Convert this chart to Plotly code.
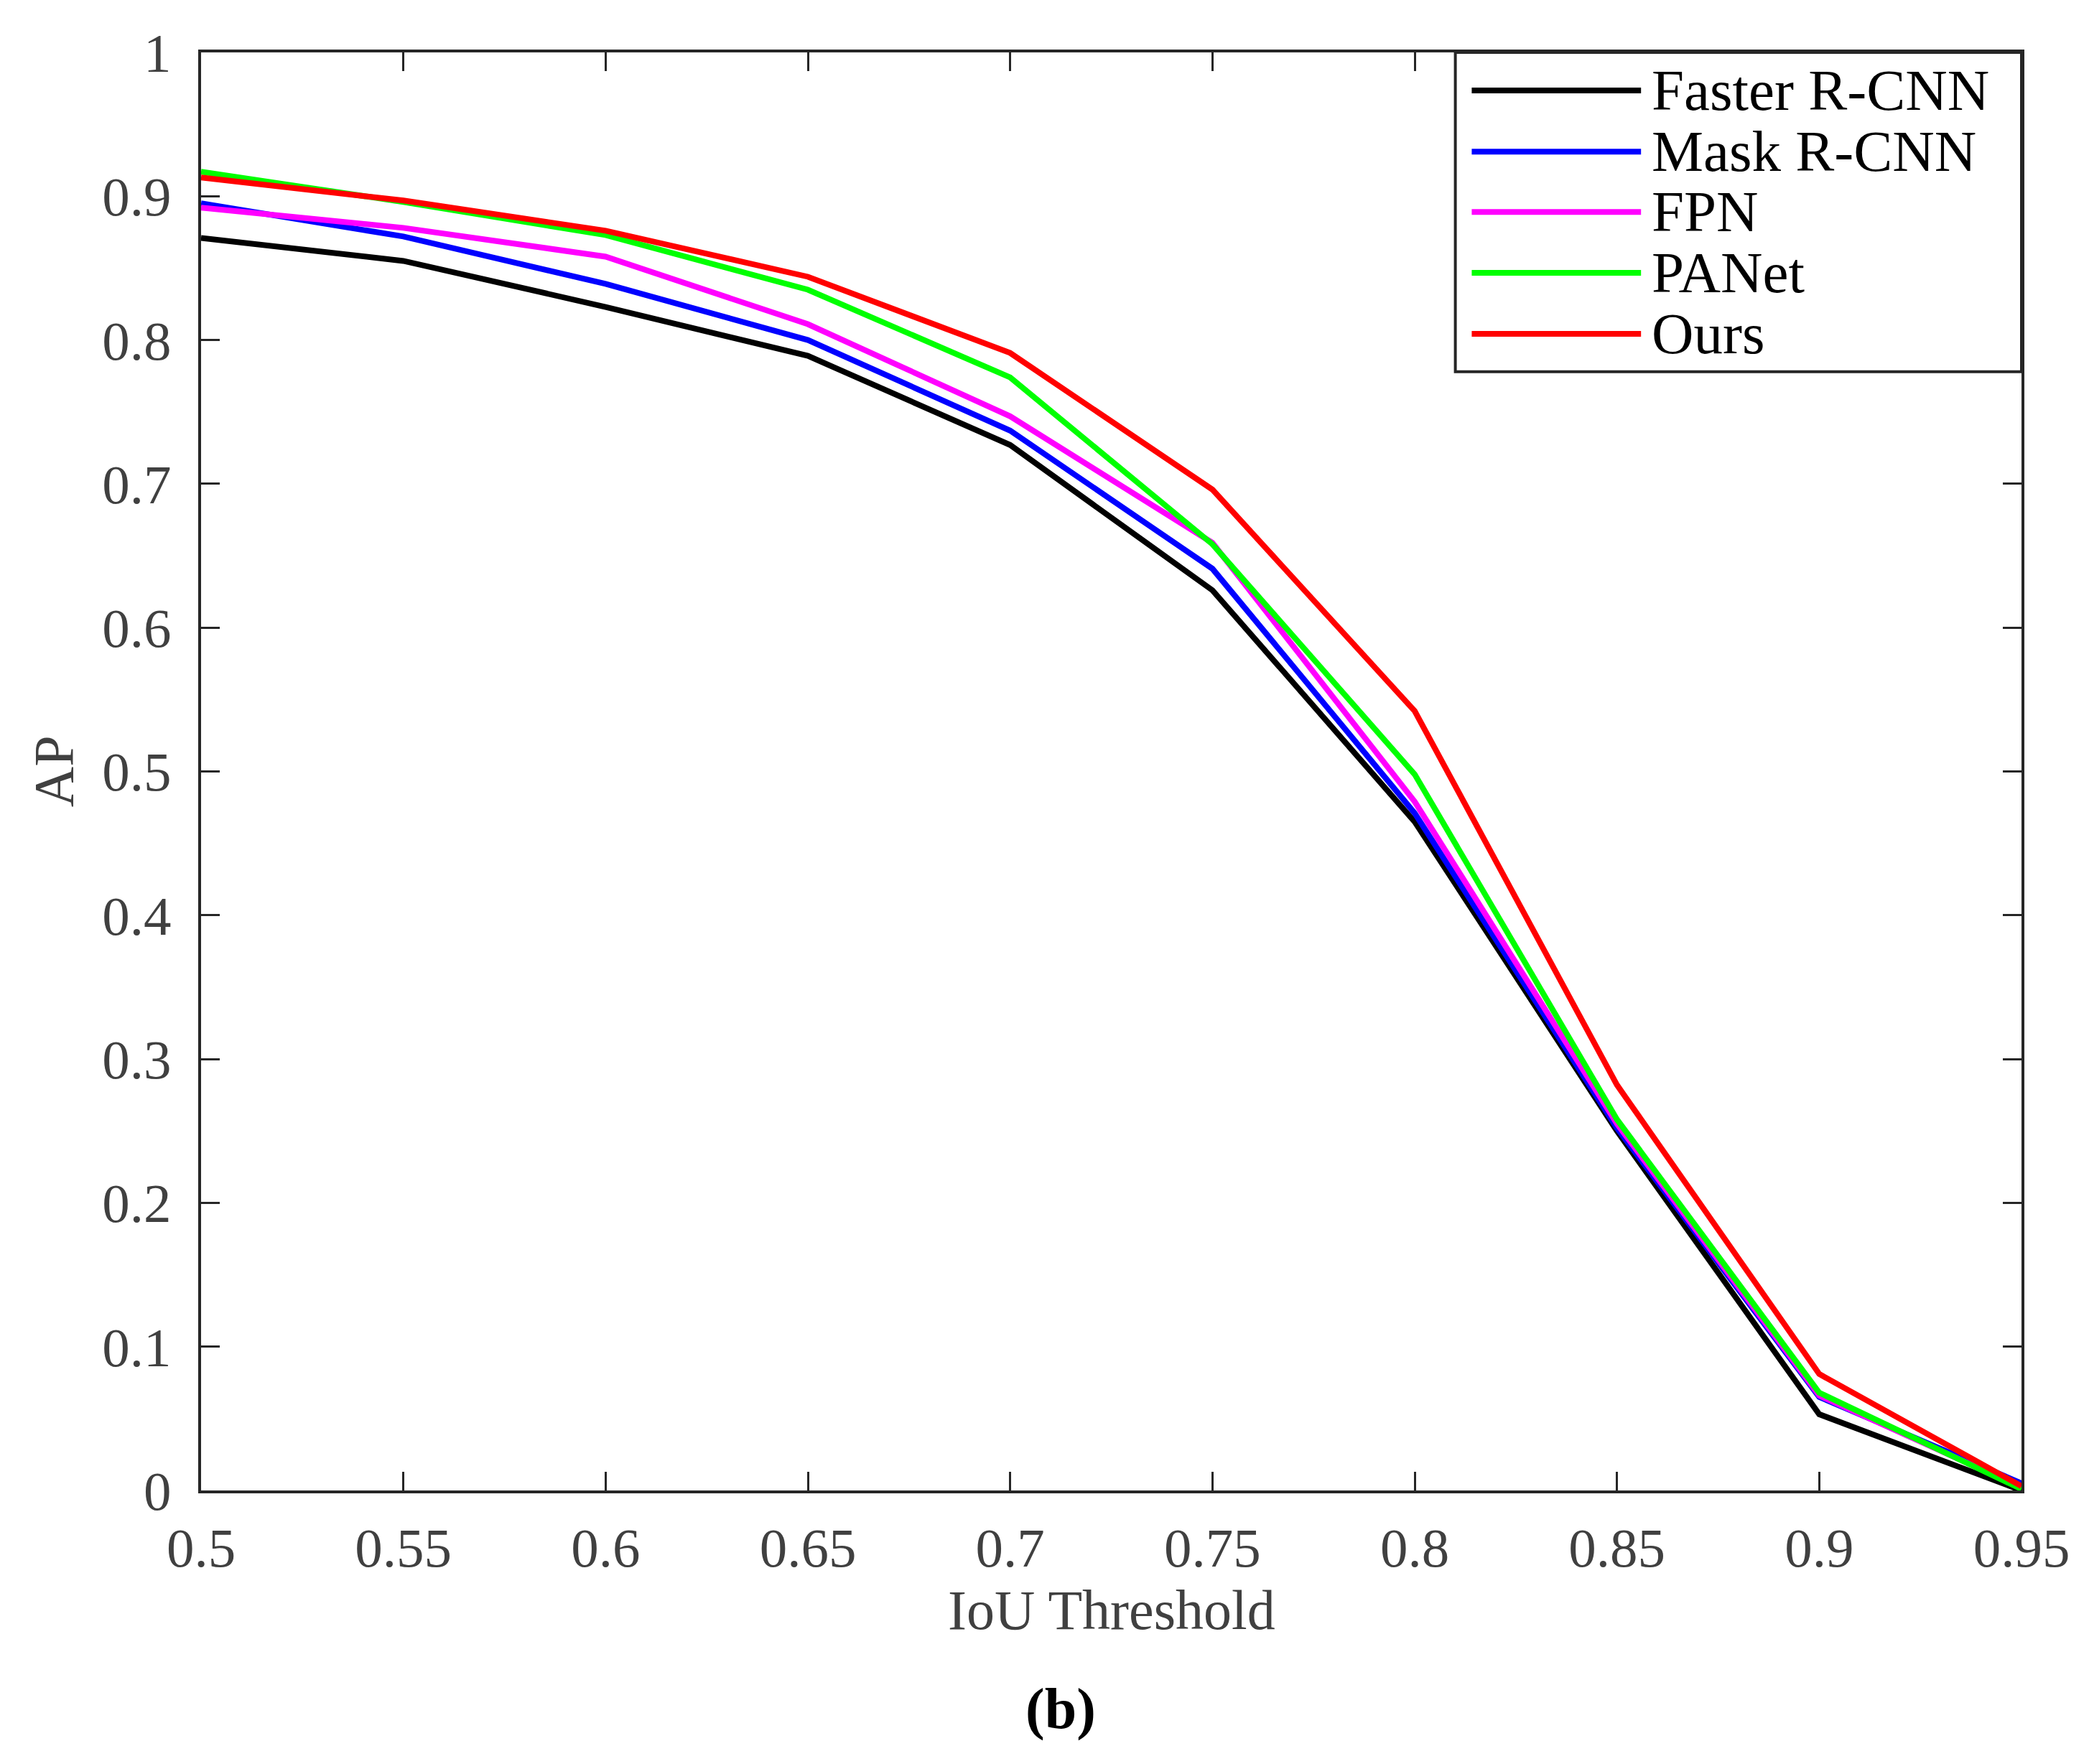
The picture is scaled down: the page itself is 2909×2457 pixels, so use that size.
import plotly.graph_objects as go

# IoU thresholds (x axis)
iou = [0.5, 0.55, 0.6, 0.65, 0.7, 0.75, 0.8, 0.85, 0.9, 0.95]

# AP values
faster_rcnn = [0.871, 0.855, 0.823, 0.789, 0.727, 0.626, 0.465, 0.250, 0.053, 0.000]
mask_rcnn = [0.895, 0.872, 0.839, 0.800, 0.737, 0.641, 0.471, 0.252, 0.065, 0.005]
fpn = [0.892, 0.878, 0.858, 0.811, 0.747, 0.659, 0.479, 0.255, 0.066, 0.002]
panet = [0.917, 0.896, 0.873, 0.835, 0.774, 0.658, 0.498, 0.258, 0.068, 0.001]
ours = [0.913, 0.897, 0.876, 0.844, 0.791, 0.696, 0.542, 0.282, 0.081, 0.003]

names = ["Faster R-CNN", "Mask R-CNN", "FPN", "PANet", "Ours"]
series = [faster_rcnn, mask_rcnn, fpn, panet, ours]
colors = ["#000000", "#0000FF", "#FF00FF", "#00FF00", "#FF0000"]

x_ticks = [0.5, 0.55, 0.6, 0.65, 0.7, 0.75, 0.8, 0.85, 0.9, 0.95]
x_labels = ["0.5", "0.55", "0.6", "0.65", "0.7", "0.75", "0.8", "0.85", "0.9", "0.95"]
y_ticks = [0, 0.1, 0.2, 0.3, 0.4, 0.5, 0.6, 0.7, 0.8, 0.9, 1]
y_labels = ["0", "0.1", "0.2", "0.3", "0.4", "0.5", "0.6", "0.7", "0.8", "0.9", "1"]

font_name = "Liberation Serif"
axis_col = "#262626"
label_col = "#404040"

fig = go.Figure()
for name, vals, col in zip(names, series, colors):
    fig.add_trace(
        go.Scatter(
            x=iou,
            y=vals,
            mode="lines",
            name=name,
            line=dict(color=col, width=8),
            showlegend=False,
        )
    )

axis_common = dict(
    showline=True,
    linecolor=axis_col,
    linewidth=4,
    mirror="ticks",
    ticks="inside",
    ticklen=26,
    tickwidth=3,
    tickcolor=axis_col,
    showgrid=False,
    zeroline=False,
    tickfont=dict(family=font_name, size=77, color=label_col),
)

fig.update_xaxes(range=[0.5, 0.95], tickvals=x_ticks, ticktext=x_labels,
                 ticklabelstandoff=10, **axis_common)
fig.update_yaxes(range=[0, 1], tickvals=y_ticks, ticktext=y_labels,
                 ticklabelstandoff=22, **axis_common)

# legend drawn by hand so the line samples are long, as in the original
leg_x0, leg_x1 = 0.689, 1.0
leg_y0, leg_y1 = 0.778, 1.0
row_y = [0.9735, 0.931, 0.889, 0.8467, 0.8043]
fig.add_shape(type="rect", xref="paper", yref="paper",
              x0=leg_x0, x1=leg_x1, y0=leg_y0, y1=leg_y1,
              line=dict(color=axis_col, width=4), fillcolor="white", layer="above")
for name, col, ry in zip(names, colors, row_y):
    fig.add_shape(type="line", xref="paper", yref="paper",
                  x0=0.698, x1=0.791, y0=ry, y1=ry,
                  line=dict(color=col, width=8), layer="above")
    fig.add_annotation(xref="paper", yref="paper", x=0.796, y=ry,
                       text=name, showarrow=False, xanchor="left", yanchor="middle",
                       font=dict(family=font_name, size=81, color="#000000"))

fig.add_annotation(xref="paper", yref="paper", x=0.5, y=-0.083,
                   text="IoU Threshold", showarrow=False,
                   xanchor="center", yanchor="middle",
                   font=dict(family=font_name, size=78, color=label_col))
fig.add_annotation(xref="paper", yref="paper", x=-0.081, y=0.5,
                   text="AP", showarrow=False, textangle=-90,
                   xanchor="center", yanchor="middle",
                   font=dict(family=font_name, size=78, color=label_col))
fig.add_annotation(xref="paper", yref="paper", x=0.472, y=-0.152,
                   text="<b>(b)</b>", showarrow=False,
                   xanchor="center", yanchor="middle",
                   font=dict(family=font_name, size=80, color="#000000"))

fig.update_layout(
    width=2909,
    height=2457,
    margin=dict(l=272, r=102, t=65, b=389),
    plot_bgcolor="white",
    paper_bgcolor="white",
)

fig.write_html("out.html")
